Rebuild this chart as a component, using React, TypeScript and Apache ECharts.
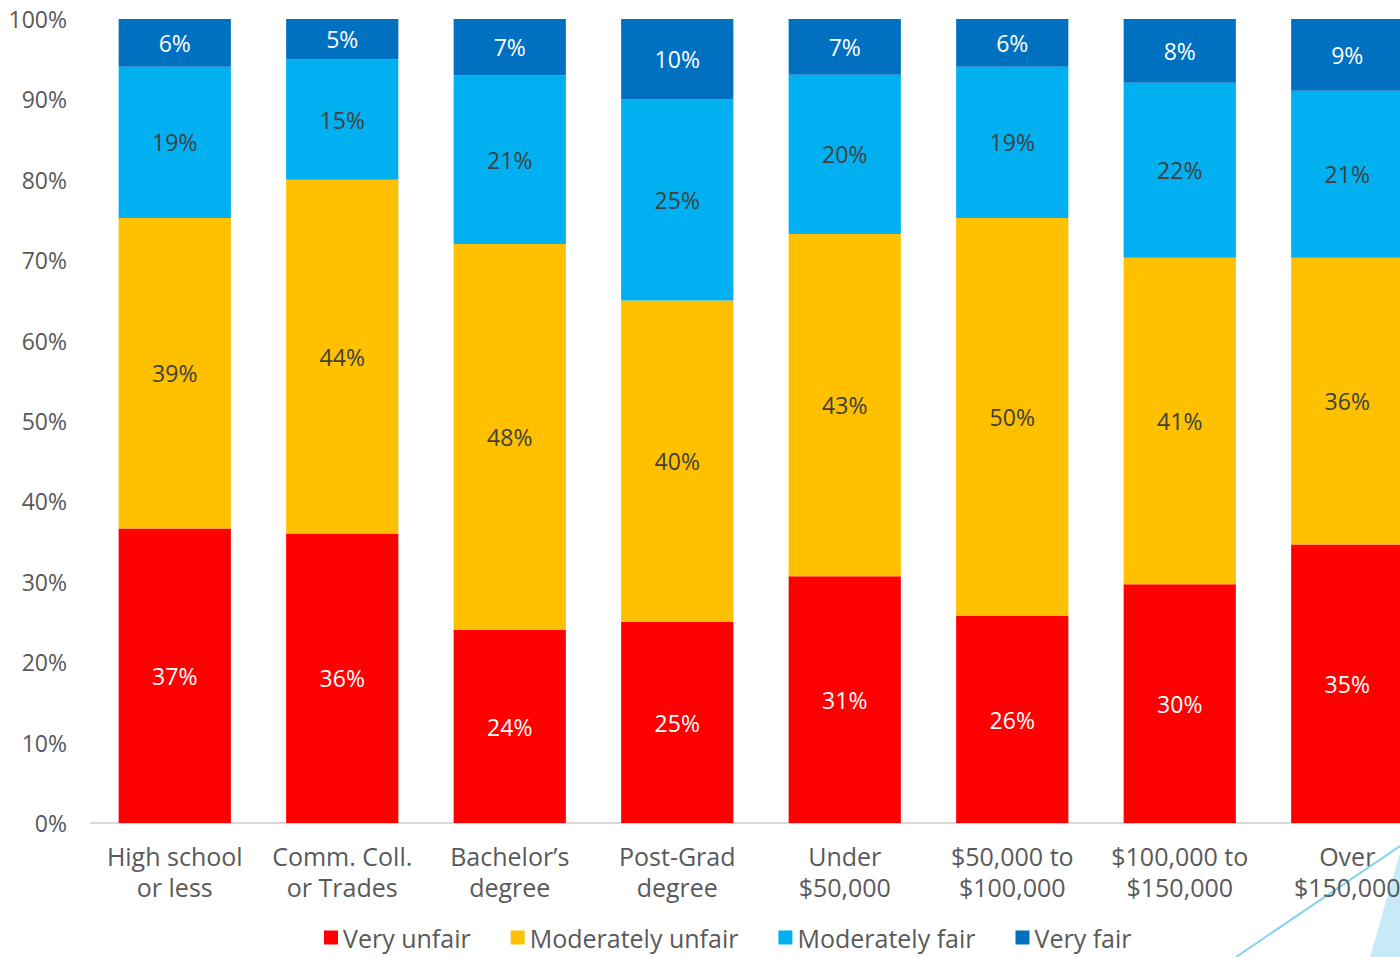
import React, { useEffect, useRef } from "react";
import * as echarts from "echarts";

const categories = [
  "High school\nor less",
  "Comm. Coll.\nor Trades",
  "Bachelor\u2019s\ndegree",
  "Post-Grad\ndegree",
  "Under\n$50,000",
  "$50,000 to\n$100,000",
  "$100,000 to\n$150,000",
  "Over\n$150,000",
];
const veryUnfair = [37, 36, 24, 25, 31, 26, 30, 35];
const moderatelyUnfair = [39, 44, 48, 40, 43, 50, 41, 36];
const moderatelyFair = [19, 15, 21, 25, 20, 19, 22, 21];
const veryFair = [6, 5, 7, 10, 7, 6, 8, 9];
const yTicks = [0, 10, 20, 30, 40, 50, 60, 70, 80, 90, 100];

const FONT = "'Open Sans', sans-serif";

export default function App() {
  const ref = useRef<HTMLDivElement>(null);
  useEffect(() => {
    if (!ref.current) return;
    const chart = echarts.init(ref.current, undefined, { renderer: "svg" });
    const totals = categories.map(
      (_, i) => veryUnfair[i] + moderatelyUnfair[i] + moderatelyFair[i] + veryFair[i]
    );
    const mk = (name: string, arr: number[], color: string, textColor: string) => ({
      name,
      type: "bar",
      stack: "total",
      barCategoryGap: "33%",
      itemStyle: { color },
      label: {
        show: true,
        position: "inside",
        color: textColor,
        fontSize: 23,
        fontFamily: FONT,
        formatter: (p: any) => `${arr[p.dataIndex]}%`,
      },
      emphasis: { disabled: true },
      data: arr.map((v, i) => (v / totals[i]) * 100),
    });
    chart.setOption({
      animation: false,
      textStyle: { fontFamily: FONT },
      grid: { left: 91, right: 0, top: 19, bottom: 134, containLabel: false },
      legend: {
        top: 920,
        left: 319,
        icon: "rect",
        itemWidth: 14,
        itemHeight: 14,
        itemGap: 40,
        textStyle: { fontSize: 25, color: "#595959", fontFamily: FONT },
        data: ["Very unfair", "Moderately unfair", "Moderately fair", "Very fair"],
      },
      xAxis: {
        type: "category",
        data: categories,
        axisLine: { lineStyle: { color: "#D9D9D9", width: 2 } },
        axisTick: { show: false },
        axisLabel: {
          fontSize: 25,
          color: "#595959",
          lineHeight: 31,
          margin: 17,
          interval: 0,
          fontFamily: FONT,
        },
      },
      yAxis: {
        type: "value",
        min: yTicks[0],
        max: yTicks[yTicks.length - 1],
        interval: 10,
        axisLine: { show: false },
        axisTick: { show: false },
        splitLine: { show: false },
        axisLabel: {
          formatter: "{value}%",
          fontSize: 23,
          color: "#595959",
          margin: 24,
          fontFamily: FONT,
        },
      },
      graphic: [
        {
          type: "polygon",
          shape: { points: [[1370, 957], [1400, 853], [1400, 957]] },
          style: { fill: "#C6EAF8" },
          silent: true,
        },
        {
          type: "line",
          shape: { x1: 1236, y1: 957, x2: 1400, y2: 846 },
          style: { stroke: "#7DD3F0", lineWidth: 2 },
          silent: true,
        },
      ],
      series: [
        mk("Very unfair", veryUnfair, "#FF0000", "#FFFFFF"),
        mk("Moderately unfair", moderatelyUnfair, "#FFC000", "#404040"),
        mk("Moderately fair", moderatelyFair, "#00B0F0", "#404040"),
        mk("Very fair", veryFair, "#0070C0", "#FFFFFF"),
      ],
    });
    return () => chart.dispose();
  }, []);
  return (
    <div
      style={{
        position: "absolute",
        left: 0,
        top: 0,
        width: 1400,
        height: 957,
        overflow: "hidden",
      }}
    >
      <div ref={ref} style={{ width: 1431, height: 957 }} />
    </div>
  );
}
